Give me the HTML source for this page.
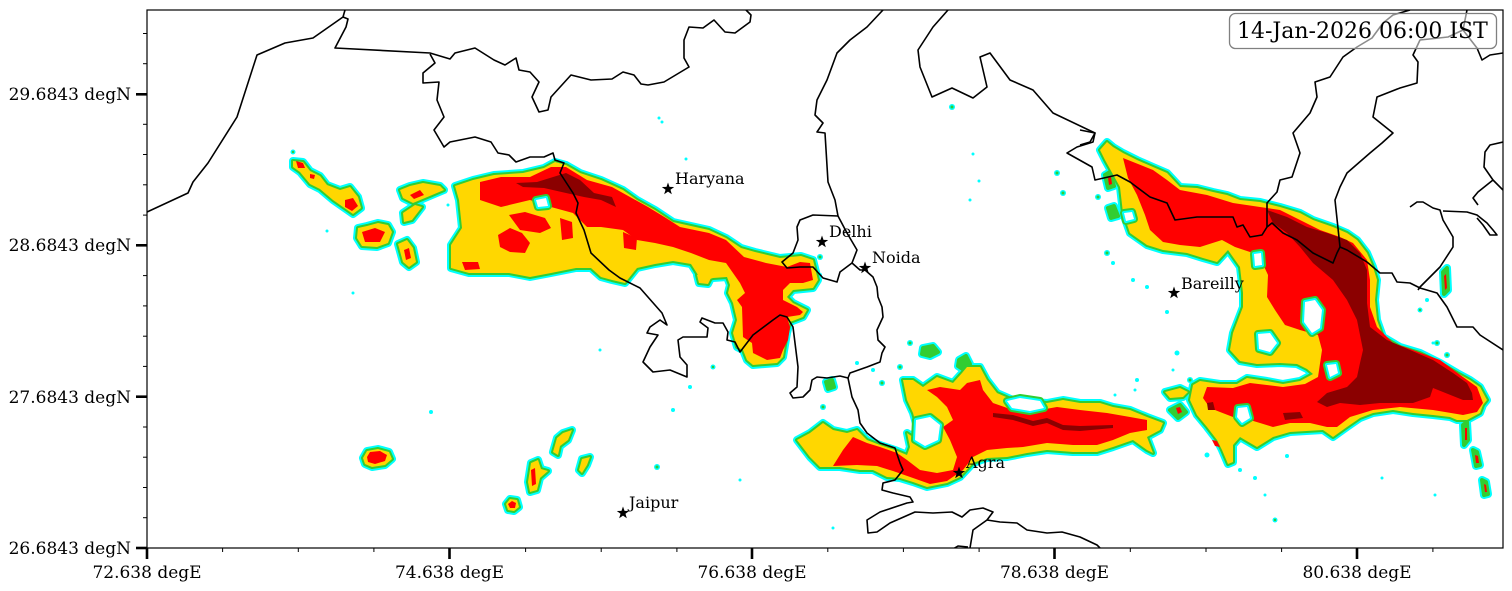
<!DOCTYPE html>
<html><head><meta charset="utf-8"><style>
html,body{margin:0;padding:0;background:#fff;}
svg{display:block;}
text{font-family:"DejaVu Serif","Liberation Serif",serif;fill:#000;}
</style></head><body>
<svg width="1512" height="591" viewBox="0 0 1512 591" xmlns="http://www.w3.org/2000/svg">
<defs>
<clipPath id="pc"><rect x="147" y="10" width="1356" height="538"/></clipPath>
<path id="gA" d="M455,186 L473,180 L494,175 L523,173 L544,168 L555,162 L566,165 L580,173 L601,180 L623,190 L637,200 L655,210 L673,222 L709,230 L726,238 L741,248 L755,252 L780,258 L801,256 L813,260 L818,280 L813,288 L793,290 L787,297 L793,303 L807,310 L803,317 L790,322 L787,333 L783,357 L777,363 L753,365 L747,360 L743,350 L737,347 L733,333 L737,320 L733,303 L728,293 L730,285 L727,277 L713,278 L707,280 L698,275 L691,264 L673,261 L655,264 L637,268 L625,283 L612,280 L601,277 L591,268 L576,268 L551,273 L530,277 L509,273 L469,273 L451,268 L451,245 L462,228 L459,200 Z"/>
<path id="gW1" d="M293,161 L303,162 L310,171 L320,176 L327,185 L340,190 L350,187 L358,197 L361,208 L353,214 L343,207 L333,200 L320,189 L310,184 L300,172 L293,167 Z"/>
<path id="gW2" d="M358,228 L367,226 L378,223 L388,225 L392,232 L388,243 L377,247 L362,246 L357,238 Z"/>
<path id="gW3" d="M400,190 L410,186 L423,183 L440,186 L444,190 L425,198 L413,203 L403,198 Z"/>
<path id="gW4" d="M398,244 L407,240 L413,248 L416,262 L409,267 L403,262 Z"/>
<path id="gW5" d="M403,213 L415,205 L422,207 L412,220 L404,222 Z"/>
<path id="gS1" d="M363,458 L367,451 L378,449 L389,452 L392,459 L385,465 L372,467 L365,464 Z"/>
<path id="gS2" d="M506,504 L510,499 L517,500 L519,507 L514,511 L508,510 Z"/>
<path id="gS3" d="M528,482 L531,463 L538,460 L541,469 L548,471 L540,478 L537,490 L530,492 Z"/>
<path id="gS4" d="M553,452 L557,438 L563,433 L572,430 L568,440 L560,446 L558,455 Z"/>
<path id="gS5" d="M579,470 L582,459 L590,457 L587,465 L582,473 Z"/>
<path id="gB" d="M797,440 L810,433 L823,423 L833,430 L847,433 L857,430 L867,440 L880,445 L895,450 L907,455 L910,447 L907,433 L913,437 L917,427 L913,413 L907,400 L903,380 L913,380 L923,387 L937,377 L953,383 L962,373 L967,367 L980,367 L987,380 L997,393 L1013,400 L1033,402 L1047,403 L1063,400 L1080,403 L1100,403 L1113,407 L1130,410 L1147,417 L1163,423 L1160,430 L1147,437 L1153,453 L1147,450 L1133,440 L1113,447 L1097,452 L1073,452 L1047,450 L1027,453 L1007,457 L987,458 L973,463 L960,477 L947,483 L927,487 L913,482 L900,478 L887,477 L873,470 L860,470 L840,467 L820,467 L810,457 Z"/>
<path id="gC" d="M1107,142 L1113,147 L1123,153 L1137,160 L1153,167 L1167,173 L1180,187 L1197,188 L1213,192 L1227,195 L1240,200 L1260,202 L1280,207 L1300,213 L1313,220 L1333,227 L1347,233 L1357,240 L1367,253 L1373,267 L1377,280 L1375,300 L1377,320 L1383,337 L1400,347 L1420,353 L1440,363 L1457,373 L1470,380 L1480,387 L1487,400 L1483,405 L1480,413 L1467,420 L1457,420 L1450,417 L1433,415 L1413,413 L1393,410 L1373,413 L1360,418 L1347,427 L1333,437 L1323,430 L1290,432 L1273,437 L1257,447 L1240,437 L1233,445 L1233,462 L1228,464 L1222,450 L1217,440 L1207,427 L1197,415 L1190,400 L1193,385 L1200,381 L1220,384 L1237,384 L1247,378 L1267,381 L1283,384 L1300,381 L1313,374 L1307,369 L1297,364 L1280,363 L1257,364 L1240,361 L1230,350 L1233,333 L1243,307 L1243,293 L1240,267 L1228,250 L1217,262 L1203,258 L1187,253 L1163,250 L1147,245 L1130,233 L1123,213 L1120,187 L1105,160 L1100,150 Z"/>
<path id="gM1" d="M697,275 L705,272 L712,276 L708,284 L699,283 Z"/>
<path id="gM2" d="M923,348 L933,346 L938,352 L930,356 L922,354 Z"/>
<path id="gM3" d="M959,360 L966,356 L970,364 L964,370 L958,366 Z"/>
<path id="gM4" d="M826,382 L832,380 L834,387 L828,389 Z"/>
<path id="gM5" d="M1463,425 L1467,422 L1468,440 L1464,445 Z"/>
<path id="gM6" d="M1473,450 L1477,452 L1480,465 L1476,466 Z"/>
<path id="gM7" d="M1482,480 L1486,482 L1488,494 L1484,495 Z"/>
<path id="gM8" d="M1443,272 L1447,268 L1448,290 L1444,294 Z"/>
<path id="gM9" d="M1105,175 L1110,172 L1114,186 L1108,188 Z"/>
<path id="gM10" d="M1108,208 L1114,206 L1118,216 L1111,218 Z"/>
<path id="gM11" d="M1165,392 L1180,388 L1188,392 L1183,397 L1170,398 Z"/>
<path id="gM12" d="M1170,410 L1180,405 L1186,412 L1178,418 Z"/>
<path id="hB1" d="M916,420 L930,417 L940,425 L938,440 L925,446 L915,440 Z"/>
<path id="hB2" d="M1007,401 L1020,398 L1040,401 L1044,408 L1030,411 L1012,408 Z"/>
<path id="hC2" d="M1305,302 L1315,300 L1322,310 L1320,328 L1312,333 L1304,322 Z"/>
<path id="hC3" d="M1258,334 L1270,333 L1277,343 L1270,352 L1259,349 Z"/>
<path id="hC4" d="M1327,365 L1336,364 L1338,373 L1330,377 Z"/>
<path id="hC5" d="M1238,408 L1247,407 L1250,418 L1242,423 L1237,417 Z"/>
<path id="hC6" d="M1124,213 L1132,212 L1134,219 L1126,221 Z"/>
<path id="hC7" d="M1254,254 L1261,253 L1262,265 L1255,266 Z"/>
<path id="hA1" d="M536,200 L546,198 L548,206 L538,207 Z"/>
</defs>

<rect x="0" y="0" width="1512" height="591" fill="#fff"/>

<g clip-path="url(#pc)">
 <g fill="#00FFFF" stroke="#00FFFF" stroke-width="8" stroke-linejoin="round">
  <use href="#gA"/><use href="#gW1"/><use href="#gW2"/><use href="#gW3"/><use href="#gW4"/><use href="#gW5"/>
  <use href="#gS1"/><use href="#gS2"/><use href="#gS3"/><use href="#gS4"/><use href="#gS5"/>
  <use href="#gB"/><use href="#gC"/>
  <use href="#gM1"/><use href="#gM2"/><use href="#gM3"/><use href="#gM4"/><use href="#gM5"/><use href="#gM6"/><use href="#gM7"/><use href="#gM8"/><use href="#gM9"/><use href="#gM10"/><use href="#gM11"/><use href="#gM12"/>
 </g>
 <g fill="#00FFFF">
  <circle cx="293" cy="152" r="2.5"/><circle cx="327" cy="231" r="1.5"/><circle cx="353" cy="293" r="1.5"/>
  <circle cx="431" cy="412" r="2"/><circle cx="448" cy="205" r="1.5"/><circle cx="659" cy="118" r="1.5"/>
  <circle cx="662" cy="122" r="1.5"/><circle cx="686" cy="159" r="1.5"/><circle cx="673" cy="410" r="2"/>
  <circle cx="690" cy="387" r="2"/><circle cx="713" cy="367" r="2.5"/><circle cx="657" cy="467" r="3"/>
  <circle cx="952" cy="107" r="3"/><circle cx="973" cy="154" r="1.5"/><circle cx="979" cy="181" r="1.5"/>
  <circle cx="970" cy="200" r="1.5"/><circle cx="1057" cy="173" r="3"/><circle cx="1063" cy="193" r="3"/>
  <circle cx="1098" cy="197" r="3"/><circle cx="1107" cy="253" r="3"/><circle cx="1113" cy="263" r="2"/>
  <circle cx="1133" cy="280" r="2"/><circle cx="1147" cy="287" r="2"/><circle cx="1167" cy="312" r="2"/>
  <circle cx="1177" cy="353" r="2.5"/><circle cx="1137" cy="380" r="2"/><circle cx="1190" cy="380" r="3"/>
  <circle cx="1420" cy="310" r="2.5"/><circle cx="1427" cy="300" r="2"/><circle cx="1437" cy="343" r="3"/>
  <circle cx="1447" cy="355" r="3"/><circle cx="1433" cy="343" r="1.5"/><circle cx="1207" cy="455" r="2.5"/>
  <circle cx="1240" cy="470" r="2"/><circle cx="1255" cy="478" r="2"/><circle cx="1275" cy="520" r="2.5"/>
  <circle cx="1265" cy="495" r="1.5"/><circle cx="1382" cy="478" r="1.5"/><circle cx="1435" cy="495" r="1.5"/>
  <circle cx="820" cy="257" r="3"/><circle cx="820" cy="275" r="2"/><circle cx="910" cy="343" r="3"/>
  <circle cx="857" cy="363" r="2"/><circle cx="873" cy="370" r="2"/><circle cx="882" cy="383" r="3"/>
  <circle cx="900" cy="367" r="3"/><circle cx="823" cy="407" r="3"/><circle cx="833" cy="528" r="1.5"/>
  <circle cx="740" cy="480" r="1.5"/><circle cx="600" cy="350" r="1.5"/><circle cx="1173" cy="370" r="1.5"/>
  <circle cx="1115" cy="395" r="1.5"/><circle cx="1135" cy="390" r="1.5"/><circle cx="1287" cy="456" r="2"/>
 </g>
 <g fill="#32CD32" stroke="#32CD32" stroke-width="4" stroke-linejoin="round">
  <use href="#gA"/><use href="#gW1"/><use href="#gW2"/><use href="#gW3"/><use href="#gW4"/><use href="#gW5"/>
  <use href="#gS1"/><use href="#gS2"/><use href="#gS3"/><use href="#gS4"/><use href="#gS5"/>
  <use href="#gB"/><use href="#gC"/>
  <use href="#gM1"/><use href="#gM2"/><use href="#gM3"/><use href="#gM4"/><use href="#gM5"/><use href="#gM6"/><use href="#gM7"/><use href="#gM8"/><use href="#gM9"/><use href="#gM10"/><use href="#gM11"/><use href="#gM12"/>
 </g>
 <g fill="#32CD32">
  <circle cx="293" cy="152" r="1.2"/><circle cx="952" cy="107" r="1.5"/><circle cx="1057" cy="173" r="1.5"/>
  <circle cx="1063" cy="193" r="1.5"/><circle cx="1098" cy="197" r="1.5"/><circle cx="1107" cy="253" r="1.5"/>
  <circle cx="1190" cy="380" r="1.5"/><circle cx="1437" cy="343" r="1.5"/><circle cx="1447" cy="355" r="1.5"/>
  <circle cx="820" cy="257" r="1.5"/><circle cx="910" cy="343" r="1.5"/><circle cx="882" cy="383" r="1.5"/>
  <circle cx="900" cy="367" r="1.5"/><circle cx="823" cy="407" r="1.5"/><circle cx="657" cy="467" r="1.5"/>
  <circle cx="713" cy="367" r="1.2"/><circle cx="1420" cy="310" r="1.2"/><circle cx="1275" cy="520" r="1.2"/>
 </g>
 <g fill="#FFD700">
  <use href="#gA"/><use href="#gW1"/><use href="#gW2"/><use href="#gW3"/><use href="#gW4"/><use href="#gW5"/>
  <use href="#gS1"/><use href="#gS2"/><use href="#gS3"/><use href="#gS4"/><use href="#gS5"/>
  <use href="#gB"/><use href="#gC"/>
  <use href="#gM1"/><use href="#gM11"/>
 </g>
 <g fill="#FF0000">
  <path d="M480,182 L501,177 L530,177 L551,167 L566,167 L587,180 L612,187 L630,197 L648,207 L666,218 L680,227 L709,233 L726,240 L744,257 L766,263 L787,267 L800,262 L810,263 L813,280 L803,283 L790,283 L783,290 L783,300 L797,307 L803,312 L800,315 L787,317 L790,327 L788,340 L783,350 L780,358 L767,360 L753,353 L752,343 L743,337 L742,307 L737,300 L745,293 L740,283 L726,263 L709,260 L691,253 L673,247 L655,243 L637,240 L623,230 L601,227 L587,227 L573,213 L551,207 L530,200 L501,207 L480,200 Z"/>
  <path d="M498,235 L510,228 L522,233 L530,243 L525,253 L510,252 L500,247 Z"/>
  <path d="M509,215 L525,212 L545,218 L551,228 L540,233 L520,230 Z"/>
  <path d="M560,218 L572,222 L573,238 L562,240 Z"/>
  <path d="M462,262 L478,262 L480,269 L465,270 Z"/>
  <path d="M623,232 L637,238 L636,250 L624,248 Z"/>
  <path d="M296,161 L303,163 L305,168 L298,168 Z"/>
  <path d="M345,200 L353,198 L358,206 L352,211 L345,207 Z"/>
  <path d="M310,174 L315,175 L314,179 L310,178 Z"/>
  <path d="M362,232 L375,228 L385,232 L380,242 L365,242 Z"/>
  <path d="M404,250 L409,248 L411,258 L406,260 Z"/>
  <path d="M410,195 L420,190 L424,195 L414,199 Z"/>
  <path d="M367,457 L370,452 L380,451 L387,455 L385,461 L375,464 L368,462 Z"/>
  <path d="M508,504 L512,501 L516,503 L515,508 L510,508 Z"/>
  <path d="M531,470 L535,468 L536,484 L532,486 Z"/>
  <path d="M833,466 L843,450 L853,437 L867,443 L880,447 L897,453 L907,460 L920,470 L937,473 L953,470 L957,457 L950,440 L943,427 L953,420 L947,407 L937,397 L927,390 L940,387 L960,390 L967,383 L980,380 L983,390 L993,403 L1013,410 L1040,410 L1057,407 L1080,410 L1107,413 L1130,417 L1147,420 L1147,430 L1130,433 L1113,440 L1097,445 L1073,445 L1047,443 L1023,447 L1007,448 L987,450 L973,457 L963,470 L947,481 L930,484 L913,478 L893,471 L877,466 L857,465 Z"/>
  <path d="M1123,158 L1153,170 L1167,180 L1180,190 L1207,195 L1233,203 L1260,207 L1280,210 L1300,220 L1320,230 L1340,237 L1353,243 L1367,260 L1370,280 L1370,307 L1377,327 L1393,343 L1413,350 L1440,360 L1463,377 L1477,387 L1483,403 L1477,412 L1463,415 L1433,410 L1400,407 L1373,410 L1350,417 L1337,427 L1327,427 L1310,423 L1290,423 L1273,427 L1260,423 L1250,420 L1233,417 L1220,412 L1210,408 L1203,398 L1207,387 L1233,388 L1250,383 L1283,387 L1305,384 L1318,377 L1322,350 L1318,335 L1300,330 L1285,325 L1275,310 L1267,297 L1268,275 L1262,262 L1250,252 L1235,247 L1222,240 L1200,247 L1180,245 L1163,242 L1150,230 L1145,215 L1137,195 L1128,178 Z"/>
  <path d="M1465,428 L1467,428 L1467,440 L1465,440 Z"/>
  <path d="M1475,455 L1478,456 L1479,463 L1476,463 Z"/>
  <path d="M1484,484 L1486,485 L1487,492 L1485,492 Z"/>
  <path d="M1444,276 L1446,274 L1447,288 L1445,290 Z"/>
  <path d="M1108,178 L1111,177 L1112,184 L1109,185 Z"/>
  <path d="M1176,408 L1180,407 L1182,412 L1178,414 Z"/>
  <path d="M1212,440 L1217,441 L1220,447 L1215,446 Z"/>
 </g>
 <g fill="#32CD32" stroke="#32CD32" stroke-width="8" stroke-linejoin="round">
  <use href="#hB1"/><use href="#hB2"/><use href="#hC2"/><use href="#hC3"/><use href="#hC4"/><use href="#hC5"/><use href="#hC6"/><use href="#hC7"/><use href="#hA1"/>
 </g>
 <g fill="#00FFFF" stroke="#00FFFF" stroke-width="4" stroke-linejoin="round">
  <use href="#hB1"/><use href="#hB2"/><use href="#hC2"/><use href="#hC3"/><use href="#hC4"/><use href="#hC5"/><use href="#hC6"/><use href="#hC7"/><use href="#hA1"/>
 </g>
 <g fill="#FFFFFF">
  <use href="#hB1"/><use href="#hB2"/><use href="#hC2"/><use href="#hC3"/><use href="#hC4"/><use href="#hC5"/><use href="#hC6"/><use href="#hC7"/><use href="#hA1"/>
 </g>
 <g fill="#8B0000">
  <path d="M516,183 L537,182 L566,173 L580,180 L594,193 L612,197 L616,207 L601,200 L584,197 L566,193 L544,188 L523,187 Z"/>
  <path d="M993,413 L1013,415 L1033,421 L1047,418 L1063,425 L1080,426 L1113,425 L1113,428 L1080,431 L1063,430 L1047,423 L1033,426 L1013,420 L993,417 Z"/>
  <path d="M1267,210 L1287,217 L1307,227 L1327,233 L1347,240 L1360,253 L1367,270 L1367,303 L1370,327 L1387,340 L1410,350 L1433,360 L1453,373 L1467,383 L1472,393 L1473,400 L1463,400 L1433,388 L1430,397 L1413,403 L1380,403 L1360,405 L1340,403 L1327,407 L1317,402 L1327,393 L1347,387 L1357,377 L1360,363 L1363,350 L1357,320 L1347,300 L1333,280 L1313,263 L1300,247 L1287,233 L1273,223 Z"/>
  <path d="M1283,413 L1300,412 L1303,418 L1285,420 Z"/>
  <path d="M1207,403 L1213,402 L1215,410 L1208,410 Z"/>
 </g>

 <g fill="none" stroke="#000" stroke-width="1.6" stroke-linejoin="round">
  <path d="M147,212 L188,193 L193,182 L208,163 L237,117 L257,55 L285,43 L313,38 L343,17 L345,10"/>
  <path d="M343,17 L348,19 L346,27 L335,48 L430,53 L450,59 L455,53 L475,48 L494,60 L505,65 L516,58 L519,70 L530,72 L539,82 L532,97 L539,112 L548,110 L551,97 L571,75 L591,80 L612,79 L623,72 L634,75 L641,84 L648,85 L664,82 L689,67 L684,58 L684,40 L689,27 L703,28 L714,20 L725,32 L735,33 L750,22 L751,15 L746,10"/>
  <path d="M430,54 L435,63 L423,73 L423,83 L439,82 L437,100 L444,117 L434,130 L444,147 L450,142 L475,137 L491,142 L498,153 L509,155 L516,162 L530,157 L544,157 L553,153 L555,160 L564,163 L560,173 L573,193 L578,203 L576,213 L584,230 L591,253 L609,270 L620,278 L640,288 L662,313 L667,325 L660,320 L650,327 L647,333 L658,335 L650,347 L643,362 L653,372 L670,370 L687,377 L687,365 L680,357 L678,340 L683,337 L697,337 L707,337 L708,328 L700,322 L702,318 L715,323 L723,323 L728,332 L727,340 L735,342 L740,352 L753,335 L773,320 L780,315 L787,317 L793,327 L795,343 L798,367 L797,387 L790,393 L793,398 L803,397 L810,390 L812,380 L817,377 L827,378 L840,376 L848,378 L850,373 L867,367 L880,362 L882,353 L885,347 L878,340 L877,330 L883,317 L882,307 L878,297 L877,287 L873,277 L865,270 L860,270 L852,263 L857,250 L847,233 L838,216 L835,200 L828,182 L825,133 L817,132 L823,123 L815,115 L817,100 L827,80 L837,53 L850,40 L867,27 L883,10"/>
  <path d="M838,216 L813,215 L800,220 L797,227 L798,240 L793,253 L782,262 L787,268 L800,267 L813,267 L823,278 L837,282 L840,272 L852,263"/>
  <path d="M848,378 L852,397 L858,410 L860,423 L867,433 L880,443 L895,448 L900,463 L903,470 L895,480 L883,483 L882,490 L893,493 L910,497 L913,502 L907,503 L880,512 L867,520 L868,533 L877,532 L890,523 L915,512 L933,513 L952,512 L962,517 L970,510 L983,508 L993,512 L987,520 L973,530 L970,548"/>
  <path d="M987,520 L1000,522 L1017,523 L1027,530 L1047,533 L1062,532 L1080,537 L1097,545 L1100,548"/>
  <path d="M953,549 L958,546 L968,547"/>
  <path d="M948,10 L933,27 L918,50 L920,67 L932,97 L952,88 L973,98 L987,87 L980,57 L990,53 L1010,80 L1033,90 L1053,113 L1095,133 L1093,142 L1077,147 L1067,153 L1092,167 L1095,180 L1117,175 L1130,182 L1150,197 L1167,203 L1175,220 L1197,217 L1217,217 L1233,217 L1237,227 L1243,225 L1250,237 L1262,235 L1267,227 L1272,223 L1283,233 L1297,240 L1313,253 L1333,263 L1337,253 L1340,247 L1347,250 L1367,262 L1380,273 L1392,273 L1397,282 L1410,283 L1420,288 L1437,293 L1447,307 L1457,327 L1473,327 L1480,335 L1503,350"/>
  <path d="M1080,130 L1095,133 L1090,142 L1080,145"/>
  <path d="M1267,227 L1267,203 L1277,192 L1280,180 L1292,177 L1300,153 L1293,133 L1310,113 L1317,97 L1315,82 L1330,77 L1343,57 L1357,47 L1372,38 L1383,23 L1393,15 L1410,10"/>
  <path d="M1340,247 L1335,200 L1340,187 L1347,173 L1370,153 L1382,143 L1393,133 L1383,125 L1373,117 L1377,97 L1400,88 L1417,83 L1418,62 L1413,55 L1420,40 L1448,37 L1463,30 L1467,10"/>
  <path d="M1463,30 L1477,48 L1482,60 L1490,55 L1503,53"/>
  <path d="M1410,207 L1417,202 L1423,202 L1433,208 L1440,210 L1443,220 L1453,237 L1453,247 L1440,267 L1427,280 L1420,287 L1418,290"/>
  <path d="M1443,211 L1467,212 L1477,215 L1487,223 L1493,230 L1497,235 L1490,235 L1483,225 L1477,218"/>
  <path d="M1503,142 L1490,145 L1485,152 L1484,167 L1493,180 L1503,190"/>
  <path d="M1493,180 L1478,192 L1473,198 L1478,205"/>
 </g>

 <g fill="#000">
  <path transform="translate(668,189)" d="M0,-6.5 L1.53,-2.1 L6.18,-2.01 L2.47,0.8 L3.82,5.26 L0,2.6 L-3.82,5.26 L-2.47,0.8 L-6.18,-2.01 L-1.53,-2.1 Z"/>
  <path transform="translate(822,242)" d="M0,-6.5 L1.53,-2.1 L6.18,-2.01 L2.47,0.8 L3.82,5.26 L0,2.6 L-3.82,5.26 L-2.47,0.8 L-6.18,-2.01 L-1.53,-2.1 Z"/>
  <path transform="translate(865,268)" d="M0,-6.5 L1.53,-2.1 L6.18,-2.01 L2.47,0.8 L3.82,5.26 L0,2.6 L-3.82,5.26 L-2.47,0.8 L-6.18,-2.01 L-1.53,-2.1 Z"/>
  <path transform="translate(1174,293)" d="M0,-6.5 L1.53,-2.1 L6.18,-2.01 L2.47,0.8 L3.82,5.26 L0,2.6 L-3.82,5.26 L-2.47,0.8 L-6.18,-2.01 L-1.53,-2.1 Z"/>
  <path transform="translate(959,473)" d="M0,-6.5 L1.53,-2.1 L6.18,-2.01 L2.47,0.8 L3.82,5.26 L0,2.6 L-3.82,5.26 L-2.47,0.8 L-6.18,-2.01 L-1.53,-2.1 Z"/>
  <path transform="translate(623,513)" d="M0,-6.5 L1.53,-2.1 L6.18,-2.01 L2.47,0.8 L3.82,5.26 L0,2.6 L-3.82,5.26 L-2.47,0.8 L-6.18,-2.01 L-1.53,-2.1 Z"/>
 </g>
 <g font-size="16">
  <text x="675" y="184">Haryana</text>
  <text x="829" y="237">Delhi</text>
  <text x="872" y="263">Noida</text>
  <text x="1181" y="289">Bareilly</text>
  <text x="966" y="468">Agra</text>
  <text x="629" y="508">Jaipur</text>
 </g>
</g>

<rect x="1229.5" y="13.5" width="267" height="35" rx="6" ry="6" fill="#fff" fill-opacity="0.55" stroke="#808080" stroke-width="1.3"/>
<text x="1237" y="38" font-size="22">14-Jan-2026 06:00 IST</text>

<rect x="147" y="10" width="1356" height="538" fill="none" stroke="#000" stroke-width="1.2"/>

<g stroke="#000">
 <g stroke-width="2.6">
  <line x1="136" y1="94.3" x2="147" y2="94.3"/>
  <line x1="136" y1="245.3" x2="147" y2="245.3"/>
  <line x1="136" y1="396.7" x2="147" y2="396.7"/>
  <line x1="136" y1="548" x2="147" y2="548"/>
 </g>
 <g stroke-width="1">
  <line x1="143" y1="33.5" x2="147" y2="33.5"/><line x1="143" y1="63.7" x2="147" y2="63.7"/>
  <line x1="143" y1="124.3" x2="147" y2="124.3"/><line x1="143" y1="154.5" x2="147" y2="154.5"/>
  <line x1="143" y1="184.8" x2="147" y2="184.8"/><line x1="143" y1="215.1" x2="147" y2="215.1"/>
  <line x1="143" y1="275.6" x2="147" y2="275.6"/><line x1="143" y1="305.9" x2="147" y2="305.9"/>
  <line x1="143" y1="336.2" x2="147" y2="336.2"/><line x1="143" y1="366.4" x2="147" y2="366.4"/>
  <line x1="143" y1="427" x2="147" y2="427"/><line x1="143" y1="457.2" x2="147" y2="457.2"/>
  <line x1="143" y1="487.5" x2="147" y2="487.5"/><line x1="143" y1="517.7" x2="147" y2="517.7"/>
 </g>
 <g stroke-width="2.6">
  <line x1="147" y1="548" x2="147" y2="559"/>
  <line x1="449.5" y1="548" x2="449.5" y2="559"/>
  <line x1="752" y1="548" x2="752" y2="559"/>
  <line x1="1054.5" y1="548" x2="1054.5" y2="559"/>
  <line x1="1357" y1="548" x2="1357" y2="559"/>
 </g>
 <g stroke-width="1">
  <line x1="222.6" y1="548" x2="222.6" y2="552"/><line x1="298.3" y1="548" x2="298.3" y2="552"/>
  <line x1="373.9" y1="548" x2="373.9" y2="552"/><line x1="525.6" y1="548" x2="525.6" y2="552"/>
  <line x1="601.2" y1="548" x2="601.2" y2="552"/><line x1="676.9" y1="548" x2="676.9" y2="552"/>
  <line x1="827.8" y1="548" x2="827.8" y2="552"/><line x1="903.4" y1="548" x2="903.4" y2="552"/>
  <line x1="979.1" y1="548" x2="979.1" y2="552"/><line x1="1130.3" y1="548" x2="1130.3" y2="552"/>
  <line x1="1206" y1="548" x2="1206" y2="552"/><line x1="1281.6" y1="548" x2="1281.6" y2="552"/>
  <line x1="1432.9" y1="548" x2="1432.9" y2="552"/>
 </g>
</g>

<g font-size="17">
 <text x="131" y="100" text-anchor="end">29.6843 degN</text>
 <text x="131" y="251" text-anchor="end">28.6843 degN</text>
 <text x="131" y="403" text-anchor="end">27.6843 degN</text>
 <text x="131" y="554" text-anchor="end">26.6843 degN</text>
 <text x="147" y="578" text-anchor="middle">72.638 degE</text>
 <text x="449.5" y="578" text-anchor="middle">74.638 degE</text>
 <text x="752" y="578" text-anchor="middle">76.638 degE</text>
 <text x="1054.5" y="578" text-anchor="middle">78.638 degE</text>
 <text x="1357" y="578" text-anchor="middle">80.638 degE</text>
</g>
</svg>
</body></html>
